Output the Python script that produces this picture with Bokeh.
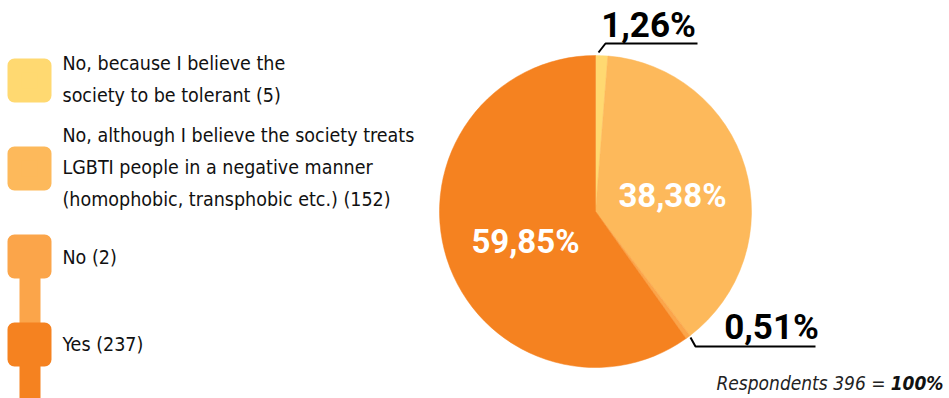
from bokeh.plotting import figure
from bokeh.models import Range1d
from bokeh.core.properties import value
from bokeh.embed import file_html
from bokeh.resources import INLINE
import math

# ---- data ----
categories = [
    "No, because I believe the\nsociety to be tolerant  (5)",
    "No, although I believe the society treats\nLGBTI people in a negative manner\n(homophobic, transphobic etc.) (152)",
    "No (2)",
    "Yes (237)",
]
counts = [5, 152, 2, 237]
colors = ["#FFD971", "#FDB95B", "#FBA54A", "#F58220"]
total = sum(counts)
pct_labels = [f"{c / total * 100:.2f}".replace(".", ",") + "%" for c in counts]
respondents_text = f"Respondents {total} ="

W, H = 949, 398
FONT = "'DejaVu Sans Condensed', 'Liberation Sans Narrow', sans-serif"


def Y(py):
    return H - py


p = figure(width=W, height=H, output_backend="svg", toolbar_location=None,
           x_range=Range1d(0, W), y_range=Range1d(0, H), min_border=0)
p.axis.visible = False
p.grid.visible = False
p.outline_line_color = None
p.background_fill_color = "white"

# ---- pie ----
cx, cy, r = 595, Y(211), 156
starts, ends = [], []
cum = 0
for c in counts:
    starts.append(math.pi / 2 - 2 * math.pi * cum / total)
    cum += c
    ends.append(math.pi / 2 - 2 * math.pi * cum / total)
p.wedge(x=cx, y=cy, radius=r, radius_units="screen",
        start_angle=starts, end_angle=ends, direction="clock",
        fill_color=colors, line_color=colors, line_width=0.5)

# inner labels
p.text(x=[672], y=[Y(195)], text=[pct_labels[1]], text_color="white",
       text_font=value("Roboto"), text_font_style="bold", text_font_size="33px",
       text_align="center", text_baseline="middle")
p.text(x=[525], y=[Y(241)], text=[pct_labels[3]], text_color="white",
       text_font=value("Roboto"), text_font_style="bold", text_font_size="33px",
       text_align="center", text_baseline="middle")

# outer labels with leader lines
p.text(x=[648], y=[Y(25)], text=[pct_labels[0]], text_color="black",
       text_font=value("Roboto"), text_font_style="bold", text_font_size="35px",
       text_align="center", text_baseline="middle")
p.line(x=[598, 605, 697], y=[Y(52), Y(43), Y(43)], line_color="black", line_width=2)
p.text(x=[771], y=[Y(327)], text=[pct_labels[2]], text_color="black",
       text_font=value("Roboto"), text_font_style="bold", text_font_size="35px",
       text_align="center", text_baseline="middle")
p.line(x=[690, 695, 815], y=[Y(337), Y(346), Y(346)], line_color="black", line_width=2)

# ---- legend ----
sq_y = [80, 168, 256, 344]
p.quad(left=19, right=40, bottom=Y(344), top=Y(256), fill_color=colors[2], line_color=None)
p.quad(left=19, right=40, bottom=Y(398), top=Y(344), fill_color=colors[3], line_color=None)
p.scatter(x=[29] * 4, y=[Y(v) for v in sq_y], marker="square", size=30,
          fill_color=colors, line_color=colors, line_width=14, line_join="round")
text_y = [79, 167, 257, 344]
p.text(x=[62] * 4, y=[Y(v) for v in text_y], text=categories, text_color="#111111",
       text_font=value(FONT), text_font_size="19.5px", text_line_height=1.4,
       text_align="left", text_baseline="middle")

# ---- footnote ----
p.text(x=[943], y=[Y(382)], text=["100%"], text_color="#111111",
       text_font=value(FONT), text_font_style="bold italic", text_font_size="19px",
       text_align="right", text_baseline="middle")
p.text(x=[885], y=[Y(382)], text=[respondents_text], text_color="#222222",
       text_font=value(FONT), text_font_style="italic", text_font_size="19px",
       text_align="right", text_baseline="middle")

open("out.html", "w").write(file_html(p, INLINE))
